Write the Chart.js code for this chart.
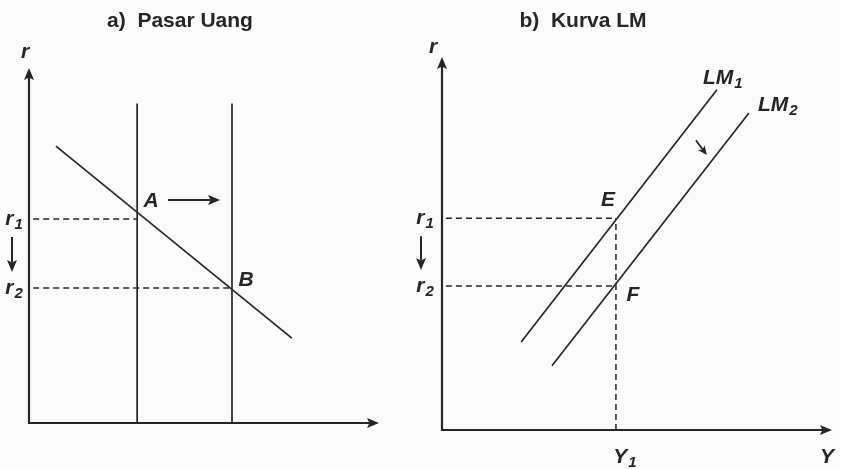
<!DOCTYPE html>
<html>
<head>
<meta charset="utf-8">
<script src="https://cdn.jsdelivr.net/npm/chart.js@4"></script>
<style>
  body { margin: 0; background: #fbfbfb; }
  .panel { position: absolute; top: 0; }
</style>
</head>
<body>
<canvas id="moneyChart" class="panel" style="left:0" width="400" height="469"></canvas>
<canvas id="lmChart" class="panel" style="left:400px" width="441" height="469"></canvas>
<script>
// a) Pasar Uang - diagram units 0..10 on both axes
const moneyDemand = [{ x: 0.77, y: 7.8 }, { x: 7.51, y: 2.39 }];
const moneySupplyX = [3.09, 5.8];      // Ms1, Ms2
const moneySupplyTop = 9.0;
const moneyRates = [5.75, 3.8];        // r1, r2
const shiftArrowA = [{ x: 3.97, y: 6.28 }, { x: 5.46, y: 6.28 }];

// b) Kurva LM
const lm1 = [{ x: 2.03, y: 2.36 }, { x: 7.05, y: 9.12 }];
const lm2 = [{ x: 2.82, y: 1.72 }, { x: 7.87, y: 8.5 }];
const incomeY1 = 4.46;
const lmRates = [5.68, 3.86];          // r1, r2
const shiftArrowB = [{ x: 6.51, y: 7.77 }, { x: 6.79, y: 7.37 }];

const INK = '#262626';
const FONT = '"Liberation Sans", Arial, sans-serif';

function solid(data) {
  return { data, showLine: true, borderColor: INK, borderWidth: 1.7, pointRadius: 0, fill: false };
}
function dashed(data) {
  return { data, showLine: true, borderColor: INK, borderWidth: 1.5, borderDash: [6, 4], pointRadius: 0, fill: false };
}

function arrowHead(ctx, x, y, ang, len, w) {
  ctx.save();
  ctx.translate(x, y);
  ctx.rotate(ang);
  ctx.beginPath();
  ctx.moveTo(0, 0);
  ctx.lineTo(-len, -w);
  ctx.lineTo(-len * 0.8, 0);
  ctx.lineTo(-len, w);
  ctx.closePath();
  ctx.fill();
  ctx.restore();
}

function arrow(ctx, x1, y1, x2, y2, width, len, w) {
  const ang = Math.atan2(y2 - y1, x2 - x1);
  ctx.lineWidth = width;
  ctx.beginPath();
  ctx.moveTo(x1, y1);
  ctx.lineTo(x2 - Math.cos(ang) * len * 0.8, y2 - Math.sin(ang) * len * 0.8);
  ctx.stroke();
  arrowHead(ctx, x2, y2, ang, len, w);
}

// italic bold label with optional subscript, centred on x
function label(ctx, x, y, base, sub, align) {
  ctx.textBaseline = 'middle';
  ctx.textAlign = 'left';
  ctx.font = 'italic bold 21px ' + FONT;
  const wb = ctx.measureText(base).width;
  ctx.font = 'italic bold 15px ' + FONT;
  const ws = sub ? ctx.measureText(sub).width + 1 : 0;
  const x0 = align === 'left' ? x : x - (wb + ws) / 2;
  ctx.font = 'italic bold 21px ' + FONT;
  ctx.fillText(base, x0, y);
  if (sub) {
    ctx.font = 'italic bold 15px ' + FONT;
    ctx.fillText(sub, x0 + wb + 1, y + 6);
  }
}

function drawAxes(ctx, area) {
  ctx.lineWidth = 2.2;
  ctx.beginPath();
  ctx.moveTo(area.left, area.top + 6);
  ctx.lineTo(area.left, area.bottom);
  ctx.lineTo(area.right - 6, area.bottom);
  ctx.stroke();
  arrowHead(ctx, area.left, area.top, -Math.PI / 2, 12, 5);
  arrowHead(ctx, area.right, area.bottom, 0, 12, 5);
}

function title(ctx, x, text) {
  ctx.font = 'bold 21px ' + FONT;
  ctx.textAlign = 'center';
  ctx.textBaseline = 'middle';
  ctx.fillText(text, x, 21);
}

const baseOptions = (padding) => ({
  responsive: false,
  animation: false,
  layout: { padding },
  plugins: { legend: { display: false }, tooltip: { enabled: false } },
  scales: {
    x: { type: 'linear', min: 0, max: 10, display: false },
    y: { type: 'linear', min: 0, max: 10, display: false }
  }
});

// panel a)
new Chart(document.getElementById('moneyChart').getContext('2d'), {
  type: 'scatter',
  data: {
    datasets: [
      solid(moneyDemand),
      solid([{ x: moneySupplyX[0], y: 0 }, { x: moneySupplyX[0], y: moneySupplyTop }]),
      solid([{ x: moneySupplyX[1], y: 0 }, { x: moneySupplyX[1], y: moneySupplyTop }]),
      dashed([{ x: 0.12, y: moneyRates[0] }, { x: moneySupplyX[0], y: moneyRates[0] }]),
      dashed([{ x: 0.12, y: moneyRates[1] }, { x: moneySupplyX[1], y: moneyRates[1] }])
    ]
  },
  options: baseOptions({ left: 29, top: 68, right: 21, bottom: 46 }),
  plugins: [{
    id: 'moneyDecor',
    afterDatasetsDraw(chart) {
      const { ctx, chartArea: a, scales: { x, y } } = chart;
      ctx.save();
      ctx.strokeStyle = INK;
      ctx.fillStyle = INK;
      drawAxes(ctx, a);
      title(ctx, 180, 'a)  Pasar Uang');
      const y1 = y.getPixelForValue(moneyRates[0]);
      const y2 = y.getPixelForValue(moneyRates[1]);
      label(ctx, a.left - 4, a.top - 16, 'r');
      label(ctx, a.left - 15, y1, 'r', '1');
      label(ctx, a.left - 15, y2, 'r', '2');
      arrow(ctx, a.left - 17, y1 + 18, a.left - 17, y2 - 16, 2, 12, 5);
      label(ctx, x.getPixelForValue(moneySupplyX[0]) + 14, y1 - 18, 'A');
      label(ctx, x.getPixelForValue(moneySupplyX[1]) + 14, y2 - 8, 'B');
      arrow(ctx, x.getPixelForValue(shiftArrowA[0].x), y.getPixelForValue(shiftArrowA[0].y),
        x.getPixelForValue(shiftArrowA[1].x), y.getPixelForValue(shiftArrowA[1].y), 2, 12, 5);
      ctx.restore();
    }
  }]
});

// panel b)
new Chart(document.getElementById('lmChart').getContext('2d'), {
  type: 'scatter',
  data: {
    datasets: [
      solid(lm1),
      solid(lm2),
      dashed([{ x: 0.1, y: lmRates[0] }, { x: incomeY1, y: lmRates[0] }]),
      dashed([{ x: 0.1, y: lmRates[1] }, { x: incomeY1, y: lmRates[1] }]),
      dashed([{ x: incomeY1, y: 0 }, { x: incomeY1, y: lmRates[0] }])
    ]
  },
  options: baseOptions({ left: 42, top: 57, right: 9, bottom: 39 }),
  plugins: [{
    id: 'lmDecor',
    afterDatasetsDraw(chart) {
      const { ctx, chartArea: a, scales: { x, y } } = chart;
      ctx.save();
      ctx.strokeStyle = INK;
      ctx.fillStyle = INK;
      drawAxes(ctx, a);
      title(ctx, 183, 'b)  Kurva LM');
      const y1 = y.getPixelForValue(lmRates[0]);
      const y2 = y.getPixelForValue(lmRates[1]);
      const xY1 = x.getPixelForValue(incomeY1);
      label(ctx, a.left - 9, a.top - 10, 'r');
      label(ctx, a.left - 17, y1, 'r', '1');
      label(ctx, a.left - 17, y2, 'r', '2');
      arrow(ctx, a.left - 21, y1 + 18, a.left - 21, y2 - 16, 2, 12, 5);
      label(ctx, xY1 - 8, y1 - 18, 'E');
      label(ctx, xY1 + 17, y2 + 9, 'F');
      label(ctx, xY1 + 9, a.bottom + 27, 'Y', '1');
      label(ctx, a.right - 5, a.bottom + 27, 'Y');
      label(ctx, x.getPixelForValue(lm1[1].x) - 14, y.getPixelForValue(lm1[1].y) - 12, 'LM', '1', 'left');
      label(ctx, x.getPixelForValue(lm2[1].x) + 9, y.getPixelForValue(lm2[1].y) - 8, 'LM', '2', 'left');
      arrow(ctx, x.getPixelForValue(shiftArrowB[0].x), y.getPixelForValue(shiftArrowB[0].y),
        x.getPixelForValue(shiftArrowB[1].x), y.getPixelForValue(shiftArrowB[1].y), 1.8, 9, 4);
      ctx.restore();
    }
  }]
});
</script>
</body>
</html>
